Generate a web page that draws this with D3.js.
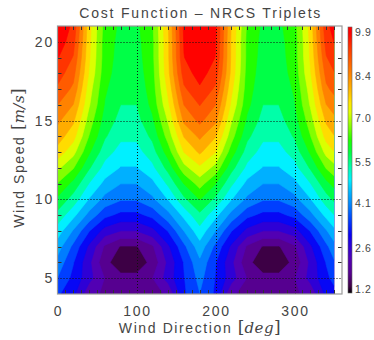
<!DOCTYPE html>
<html>
<head>
<meta charset="utf-8">
<title>Cost Function - NRCS Triplets</title>
<script src="https://cdn.jsdelivr.net/npm/d3@7/dist/d3.min.js"></script>
<style>
    body { margin: 0; background: white; }
    text { font-family: "Liberation Sans", Arial, sans-serif; fill: #454545; }
</style>
</head>
<body>
<div id="panel"></div>
<script>
    // wind direction columns (deg) and wind speed rows (m/s), top row first
    var directions = [0, 20, 40, 60, 80, 100, 120, 140, 160, 180, 200, 220, 240, 260, 280, 300, 320, 340, 360];
    var speeds = [21, 20, 19, 18, 17, 16, 15, 14, 13, 12, 11, 10, 9, 8, 7, 6, 5, 4];

    // cost values, one row per speed
    var costRows = [
        [9.9, 9.35, 7.45, 6.25, 5.9, 5.9, 6.35, 7.7, 9.55, 9.95, 9.55, 7.7, 6.35, 5.9, 5.9, 6.25, 7.45, 9.35, 9.9],
        [9.75, 9.2, 7.4, 6.2, 5.85, 5.85, 6.3, 7.65, 9.5, 9.9, 9.5, 7.65, 6.3, 5.85, 5.85, 6.2, 7.4, 9.2, 9.75],
        [9.5, 9.0, 7.35, 6.2, 5.8, 5.8, 6.3, 7.65, 9.45, 9.85, 9.45, 7.65, 6.3, 5.8, 5.8, 6.2, 7.35, 9.0, 9.5],
        [9.25, 8.75, 7.25, 6.15, 5.75, 5.75, 6.25, 7.6, 9.25, 9.65, 9.25, 7.6, 6.25, 5.75, 5.75, 6.15, 7.25, 8.75, 9.25],
        [8.95, 8.5, 7.05, 6.05, 5.65, 5.65, 6.2, 7.4, 8.95, 9.4, 8.95, 7.4, 6.2, 5.65, 5.65, 6.05, 7.05, 8.5, 8.95],
        [8.6, 8.15, 6.9, 5.95, 5.55, 5.55, 6.1, 7.2, 8.6, 9.05, 8.6, 7.2, 6.1, 5.55, 5.55, 5.95, 6.9, 8.15, 8.6],
        [8.25, 7.8, 6.65, 5.8, 5.4, 5.4, 5.9, 6.9, 8.25, 8.7, 8.25, 6.9, 5.9, 5.4, 5.4, 5.8, 6.65, 7.8, 8.25],
        [7.95, 7.45, 6.4, 5.6, 5.2, 5.2, 5.65, 6.6, 7.75, 8.25, 7.75, 6.6, 5.65, 5.2, 5.2, 5.6, 6.4, 7.45, 7.95],
        [7.55, 7.0, 6.05, 5.3, 4.95, 4.95, 5.35, 6.2, 7.3, 7.8, 7.3, 6.2, 5.35, 4.95, 4.95, 5.3, 6.05, 7.0, 7.55],
        [6.95, 6.45, 5.6, 4.95, 4.65, 4.65, 5.0, 5.7, 6.7, 7.2, 6.7, 5.7, 5.0, 4.65, 4.65, 4.95, 5.6, 6.45, 6.95],
        [6.4, 5.85, 5.1, 4.55, 4.25, 4.25, 4.55, 5.2, 6.0, 6.6, 6.0, 5.2, 4.55, 4.25, 4.25, 4.55, 5.1, 5.85, 6.4],
        [5.9, 5.35, 4.65, 4.1, 3.85, 3.85, 4.15, 4.7, 5.45, 6.0, 5.45, 4.7, 4.15, 3.85, 3.85, 4.1, 4.65, 5.35, 5.9],
        [5.4, 4.8, 4.1, 3.5, 3.25, 3.25, 3.5, 4.1, 4.8, 5.45, 4.8, 4.1, 3.5, 3.25, 3.25, 3.5, 4.1, 4.8, 5.4],
        [4.9, 4.2, 3.4, 2.75, 2.5, 2.5, 2.8, 3.4, 4.25, 4.95, 4.25, 3.4, 2.8, 2.5, 2.5, 2.75, 3.4, 4.2, 4.9],
        [4.45, 3.7, 2.85, 2.0, 1.6, 1.6, 2.0, 2.85, 3.7, 4.5, 3.7, 2.85, 2.0, 1.6, 1.6, 2.0, 2.85, 3.7, 4.45],
        [4.1, 3.4, 2.6, 1.75, 1.4, 1.4, 1.75, 2.6, 3.4, 4.15, 3.4, 2.6, 1.75, 1.4, 1.4, 1.75, 2.6, 3.4, 4.1],
        [3.8, 3.25, 2.65, 2.05, 1.75, 1.75, 2.05, 2.7, 3.35, 3.95, 3.35, 2.7, 2.05, 1.75, 1.75, 2.05, 2.65, 3.25, 3.8],
        [3.45, 3.05, 2.2, 2.0, 1.92, 1.92, 2.0, 2.1, 3.3, 3.8, 3.3, 2.1, 2.0, 1.92, 1.92, 2.0, 2.2, 3.05, 3.45]
    ];

    var xTicks = [0, 100, 200, 300];
    var yTicks = [5, 10, 15, 20];
    var barLabels = ["1.2", "2.6", "4.1", "5.5", "7.0", "8.4", "9.9"];
    var levelMin = 1.2, levelMax = 9.9, nLevels = 20;
    var dirMaxData = 350;

    // rainbow colour table
    var colorStops = [1.2, 1.42, 1.85, 2.3, 2.7, 3.1, 3.6, 4.05, 4.5, 4.9, 5.3, 5.8, 6.2, 6.7, 7.1, 7.4, 7.9, 8.4, 8.8, 9.25, 9.7, 9.9];
    var colorList = ["#000000", "#3e0046", "#560090", "#5200b4", "#3000d4", "#0800f4", "#0040ff", "#0080ff",
                     "#00b4ff", "#00f0ff", "#00ffb0", "#00ff40", "#20ff00", "#90ff00", "#e0ff00", "#ffe800",
                     "#ffb000", "#ff8000", "#ff5c00", "#ff3400", "#ff0000", "#ff0000"];

    var width = 374, height = 340;
    var plotLeft = 57.5, plotRight = 342, plotTop = 26, plotBottom = 294;

    var svg = d3.select("#panel").append("svg")
                .attr("width", width)
                .attr("height", height);
    svg.append("rect").attr("width", width).attr("height", height).attr("fill", "white");

    var x = d3.scaleLinear().domain([0, 360]).range([plotLeft, plotRight]);
    var y = d3.scaleLinear().domain([4, 21]).range([plotBottom, plotTop]);
    var color = d3.scaleLinear().domain(colorStops).range(colorList).interpolate(d3.interpolateRgb);

    // filled contours
    var nx = directions.length, ny = speeds.length;
    var gridValues = [].concat.apply([], costRows);
    var step = (levelMax - levelMin) / nLevels;
    var thresholds = d3.range(nLevels).map(function(k){ return levelMin + k * step; });
    var contours = d3.contours().size([nx, ny]).thresholds(thresholds)(gridValues);

    var colIndex = d3.scaleLinear().domain([0, nx - 1]).range([directions[0], directions[nx - 1]]);
    var rowIndex = d3.scaleLinear().domain([0, ny - 1]).range([speeds[0], speeds[ny - 1]]);
    var proj = d3.geoTransform({
        point: function(px, py) {
            this.stream.point(x(colIndex(px - 0.5)), y(rowIndex(py - 0.5)));
        }
    });
    var path = d3.geoPath(proj);

    svg.append("clipPath").attr("id", "dataClip")
       .append("rect")
       .attr("x", x(0)).attr("y", y(21))
       .attr("width", x(dirMaxData) - x(0))
       .attr("height", y(4) - y(21));

    svg.append("g").attr("clip-path", "url(#dataClip)")
       .selectAll("path")
       .data(contours)
       .enter().append("path")
       .attr("d", path)
       .attr("fill-rule", "evenodd")
       .attr("fill", function(d){ return color(d.value + step / 2); })
       .attr("stroke", function(d){ return color(d.value + step / 2); })
       .attr("stroke-width", 0.6);

    // dotted grid
    var grid = svg.append("g").attr("stroke", "#111").attr("stroke-width", 1).attr("stroke-dasharray", "1,2");
    xTicks.filter(function(d){ return d > 0; }).forEach(function(d){
        grid.append("line").attr("x1", Math.round(x(d)) + 0.5).attr("x2", Math.round(x(d)) + 0.5)
            .attr("y1", plotTop).attr("y2", plotBottom);
    });
    yTicks.forEach(function(d){
        grid.append("line").attr("y1", Math.round(y(d)) + 0.5).attr("y2", Math.round(y(d)) + 0.5)
            .attr("x1", plotLeft).attr("x2", plotRight);
    });

    // minor ticks on all four sides
    var ticks = svg.append("g").attr("stroke", "#333").attr("stroke-width", 1);
    d3.range(10, 360, 10).filter(function(d){ return d % 100 !== 0; }).forEach(function(d){
        var px = Math.round(x(d)) + 0.5;
        ticks.append("line").attr("x1", px).attr("x2", px).attr("y1", plotBottom).attr("y2", plotBottom - 4);
        ticks.append("line").attr("x1", px).attr("x2", px).attr("y1", plotTop).attr("y2", plotTop + 4);
    });
    d3.range(5, 21, 1).filter(function(d){ return d % 5 !== 0; }).forEach(function(d){
        var py = Math.round(y(d)) + 0.5;
        ticks.append("line").attr("y1", py).attr("y2", py).attr("x1", plotLeft).attr("x2", plotLeft + 4);
        ticks.append("line").attr("y1", py).attr("y2", py).attr("x1", plotRight).attr("x2", plotRight - 4);
    });

    // frame
    svg.append("rect")
       .attr("x", plotLeft).attr("y", plotTop)
       .attr("width", plotRight - plotLeft).attr("height", plotBottom - plotTop)
       .attr("fill", "none").attr("stroke", "#9a9a9a").attr("stroke-width", 1.2);

    // tick labels
    svg.append("g").selectAll("text").data(xTicks).enter().append("text")
       .attr("x", function(d){ return x(d) + 1; })
       .attr("y", 316)
       .attr("text-anchor", "middle")
       .attr("font-size", 14)
       .style("letter-spacing", "1.8px")
       .text(function(d){ return d; });

    svg.append("g").selectAll("text").data(yTicks).enter().append("text")
       .attr("x", 54)
       .attr("y", function(d){ return y(d) + 5; })
       .attr("text-anchor", "end")
       .attr("font-size", 14)
       .style("letter-spacing", "1.8px")
       .text(function(d){ return d; });

    // title
    svg.append("text")
       .attr("x", (plotLeft + plotRight) / 2 + 1)
       .attr("y", 18)
       .attr("text-anchor", "middle")
       .attr("font-size", 14)
       .style("letter-spacing", "1.8px")
       .text("Cost Function \u2013 NRCS Triplets");

    // axis titles
    var xt = svg.append("text")
       .attr("x", (plotLeft + plotRight) / 2)
       .attr("y", 333)
       .attr("text-anchor", "middle")
       .attr("font-size", 14)
       .style("letter-spacing", "1.6px");
    xt.append("tspan").text("Wind Direction ");
    xt.append("tspan").attr("font-family", "DejaVu Serif").attr("font-size", 17).style("letter-spacing", "0px").text("[");
    xt.append("tspan").attr("font-family", "DejaVu Serif").attr("font-style", "italic").attr("font-size", 15).style("letter-spacing", "0.5px").text("deg");
    xt.append("tspan").attr("font-family", "DejaVu Serif").attr("font-size", 17).style("letter-spacing", "0px").text("]");

    var yt = svg.append("text")
       .attr("transform", "translate(24," + ((plotTop + plotBottom) / 2 - 2) + ") rotate(-90)")
       .attr("text-anchor", "middle")
       .attr("font-size", 14)
       .style("letter-spacing", "1.6px");
    yt.append("tspan").text("Wind Speed ");
    yt.append("tspan").attr("font-family", "DejaVu Serif").attr("font-size", 17).style("letter-spacing", "0px").text("[");
    yt.append("tspan").attr("font-family", "DejaVu Serif").attr("font-style", "italic").attr("font-size", 15).style("letter-spacing", "0.5px").text("m/s");
    yt.append("tspan").attr("font-family", "DejaVu Serif").attr("font-size", 17).style("letter-spacing", "0px").text("]");

    // colour bar
    var barX = 348, barW = 4, barTop = 27, barBottom = 293;
    var grad = svg.append("defs").append("linearGradient")
                  .attr("id", "barGrad")
                  .attr("x1", 0).attr("x2", 0).attr("y1", 1).attr("y2", 0);
    colorStops.forEach(function(v, i){
        grad.append("stop")
            .attr("offset", (v - levelMin) / (levelMax - levelMin))
            .attr("stop-color", colorList[i]);
    });
    svg.append("rect")
       .attr("x", barX).attr("y", barTop)
       .attr("width", barW).attr("height", barBottom - barTop)
       .attr("fill", "url(#barGrad)")
       .attr("stroke", "#666").attr("stroke-width", 0.6);

    var yBar = d3.scaleLinear().domain([levelMin, levelMax]).range([289, 32]);
    svg.append("g").selectAll("text").data(barLabels).enter().append("text")
       .attr("x", 355)
       .attr("y", function(d){ return yBar(+d) + 4; })
       .attr("font-size", 10.5)
       .style("letter-spacing", "0.6px")
       .text(function(d){ return d; });
</script>
</body>
</html>
